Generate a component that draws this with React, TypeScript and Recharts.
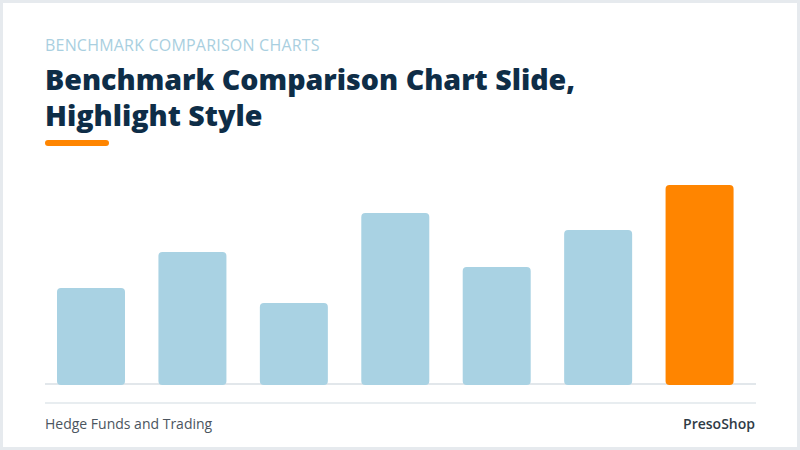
import { BarChart, Bar, XAxis, YAxis, Cell } from "recharts";

const categories = ["A", "B", "C", "D", "E", "F", "G"];
const values = [48.5, 66.5, 41, 86, 59, 77.5, 100];
const highlightIndex = 6;

const data = categories.map((name, i) => ({ name, value: values[i] }));

const FONT = "'Open Sans', 'Noto Sans', sans-serif";

export default function App() {
  return (
    <div
      style={{
        position: "fixed",
        left: 0,
        top: 0,
        width: 800,
        height: 450,
        background: "#e6eaee",
        fontFamily: FONT,
      }}
    >
      <div
        style={{
          position: "absolute",
          left: 3,
          top: 3,
          width: 794,
          height: 444,
          background: "#ffffff",
        }}
      />
      <div
        style={{
          position: "absolute",
          left: 45,
          top: 35,
          fontSize: 16,
          color: "#a9cfe0",
          letterSpacing: 0.2,
          lineHeight: "20px",
          whiteSpace: "nowrap",
        }}
      >
        BENCHMARK COMPARISON CHARTS
      </div>
      <div
        style={{
          position: "absolute",
          left: 45,
          top: 61,
          fontSize: 28.6,
          fontWeight: 800,
          color: "#0e2d47",
          lineHeight: "36px",
          whiteSpace: "nowrap",
        }}
      >
        Benchmark Comparison Chart Slide,
        <br />
        Highlight Style
      </div>
      <div
        style={{
          position: "absolute",
          left: 45,
          top: 140,
          width: 64,
          height: 6,
          borderRadius: 3,
          background: "#ff8500",
        }}
      />
      {/* baseline */}
      <div
        style={{
          position: "absolute",
          left: 45,
          top: 383,
          width: 711,
          height: 2,
          background: "#e2e7eb",
        }}
      />
      <div style={{ position: "absolute", left: 0, top: 0 }}>
        <BarChart
          width={800}
          height={400}
          data={data}
          margin={{ top: 185, right: 50, left: 40, bottom: 15 }}
          barSize={68}
        >
          <XAxis dataKey="name" hide />
          <YAxis hide domain={[0, 100]} />
          <Bar dataKey="value" radius={4} isAnimationActive={false}>
            {data.map((d, i) => (
              <Cell
                key={d.name}
                fill={i === highlightIndex ? "#ff8500" : "#a9d2e3"}
              />
            ))}
          </Bar>
        </BarChart>
      </div>
      {/* footer */}
      <div
        style={{
          position: "absolute",
          left: 45,
          top: 402,
          width: 711,
          height: 2,
          background: "#e8edf0",
        }}
      />
      <div
        style={{
          position: "absolute",
          left: 45,
          top: 414,
          fontSize: 14,
          color: "#4b5560",
          lineHeight: "20px",
        }}
      >
        Hedge Funds and Trading
      </div>
      <div
        style={{
          position: "absolute",
          right: 45,
          top: 414,
          fontSize: 14,
          fontWeight: 600,
          color: "#2f3b46",
          lineHeight: "20px",
        }}
      >
        PresoShop
      </div>
    </div>
  );
}
